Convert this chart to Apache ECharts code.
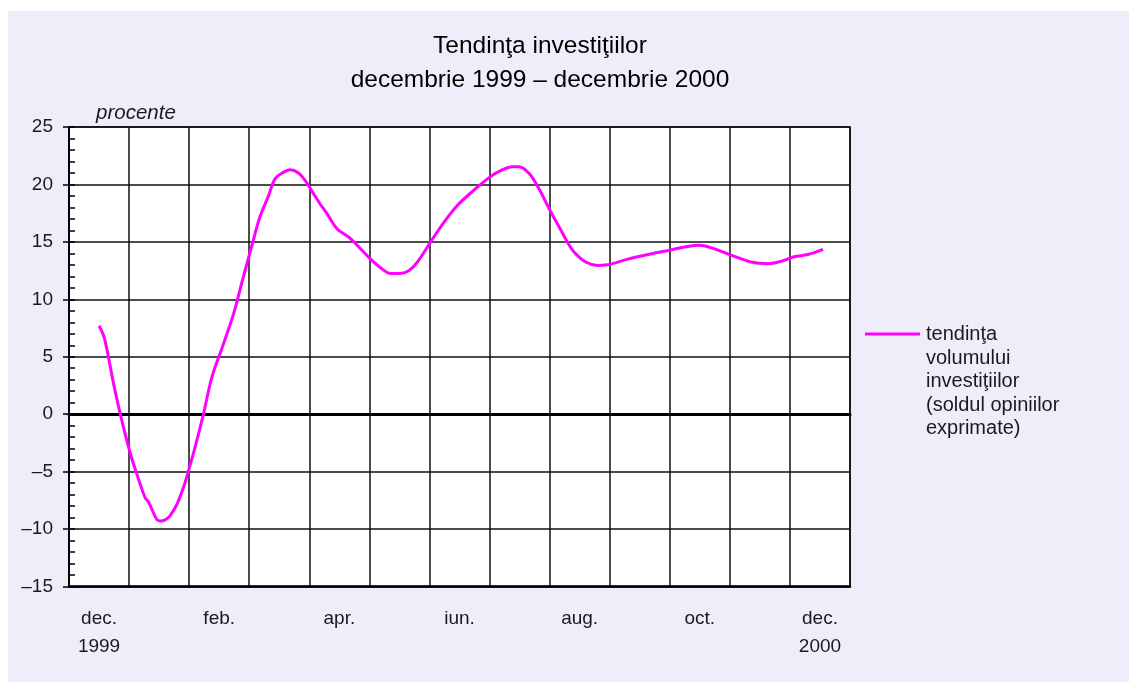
<!DOCTYPE html>
<html>
<head>
<meta charset="utf-8">
<script src="https://cdn.jsdelivr.net/npm/echarts@6/dist/echarts.min.js"></script>
<style>
  html, body { margin: 0; padding: 0; background: #ffffff; width: 1129px; height: 682px; overflow: hidden; }
  #bg { position: absolute; left: 8px; top: 11px; right: 0; bottom: 0; background: #EEEEFB; }
  #chart { position: absolute; left: 0; top: 0; width: 1129px; height: 682px; }
</style>
</head>
<body>
<div id="bg"></div>
<div id="chart"></div>
<script>
// Month categories (Dec 1999 – Dec 2000); every other one is labelled
const months = ['dec.\n1999', 'ian.', 'feb.', 'mar.', 'apr.', 'mai', 'iun.', 'iul.', 'aug.', 'sep.', 'oct.', 'nov.', 'dec.\n2000'];

// Position along the time axis (in months; centre of month k is k + 0.5)
const monthPos = [
  0.50, 0.59, 0.74, 0.85, 1.02, 1.16, 1.27, 1.32, 1.46, 1.52, 1.60, 1.68, 1.80, 1.91, 1.99,
  2.10, 2.24, 2.38, 2.57, 2.74, 2.90, 3.05, 3.18, 3.32, 3.43, 3.55, 3.68, 3.82, 3.93, 4.07,
  4.18, 4.29, 4.46, 4.68, 5.02, 5.21, 5.35, 5.52, 5.66, 5.80, 6.02, 6.24, 6.46, 6.74, 7.02,
  7.21, 7.38, 7.49, 7.66, 7.82, 8.02, 8.18, 8.30, 8.41, 8.60, 8.80, 8.96, 9.30, 9.68, 10.02,
  10.30, 10.49, 10.68, 11.02, 11.35, 11.63, 11.85, 12.07, 12.30, 12.55
];

// Investment volume trend (balance of opinions, %)
const trend = [
  7.7, 6.6, 2.7, 0.1, -3.4, -5.7, -7.3, -7.6, -9.15, -9.3, -9.2, -8.85, -7.8, -6.3, -4.9,
  -2.85, 0.05, 3.25, 6.1, 8.75, 11.9, 14.8, 17.2, 19.0, 20.5, 21.0, 21.27, 21.0, 20.35, 19.2,
  18.3, 17.5, 16.15, 15.3, 13.5, 12.65, 12.25, 12.25, 12.5, 13.25, 15.0, 16.7, 18.15, 19.5, 20.7,
  21.27, 21.55, 21.55, 20.95, 19.65, 17.6, 16.1, 14.95, 14.1, 13.25, 12.95, 13.0, 13.5, 13.95, 14.3,
  14.6, 14.7, 14.5, 13.85, 13.25, 13.1, 13.3, 13.7, 13.9, 14.35
];

const titleLines = ['Tendinţa investiţiilor', 'decembrie 1999 – decembrie 2000'];
const yUnit = 'procente';
const legendText = 'tendinţa\nvolumului\ninvestiţiilor\n(soldul opiniilor\nexprimate)';

const FONT = '"Liberation Sans", Arial, Helvetica, sans-serif';
const chart = echarts.init(document.getElementById('chart'), null, { renderer: 'canvas' });

const option = {
  backgroundColor: 'transparent',
  animation: false,
  grid: { left: 69, right: 279, top: 127, bottom: 95.5, containLabel: false,
          show: true, borderColor: '#000', borderWidth: 1.5, backgroundColor: '#ffffff' },
  xAxis: [
    {
      type: 'category', data: months, boundaryGap: true, position: 'bottom',
      axisLine: { onZero: false, lineStyle: { color: '#000', width: 2.5 } },
      axisTick: { show: false },
      axisLabel: { interval: 1, margin: 18, lineHeight: 28, fontSize: 19, color: '#1a1a1a', fontFamily: FONT },
      splitLine: { show: true, interval: 0, lineStyle: { color: '#111', width: 1.5 } }
    },
    { type: 'value', min: 0, max: 13, show: false },
    {
      type: 'category', data: months, boundaryGap: true, position: 'bottom',
      axisLine: { onZero: true, onZeroAxisIndex: 0, lineStyle: { color: '#000', width: 3 } },
      axisTick: { show: false }, axisLabel: { show: false }, splitLine: { show: false }
    }
  ],
  yAxis: [
    {
      type: 'value', min: -15, max: 25, interval: 5, position: 'left',
      axisLine: { show: true, lineStyle: { color: '#000', width: 2 } },
      axisTick: { show: true, length: 6, lineStyle: { color: '#000', width: 1.5 } },
      axisLabel: { margin: 16, fontSize: 19, color: '#1a1a1a', fontFamily: FONT,
                   formatter: v => String(v).replace('-', '\u2013') },
      splitLine: { show: true, lineStyle: { color: '#111', width: 1.5 } }
    },
    {
      type: 'value', min: -15, max: 25, interval: 1, position: 'left',
      axisLine: { show: false },
      axisTick: { show: true, inside: true, length: 6, lineStyle: { color: '#000', width: 1.5 } },
      axisLabel: { show: false }, splitLine: { show: false }
    }
  ],
  series: [
    {
      type: 'line', name: 'tendinţa volumului investiţiilor',
      xAxisIndex: 1, yAxisIndex: 0,
      data: monthPos.map((m, i) => [m, trend[i]]),
      smooth: 0.35, showSymbol: false, symbol: 'none',
      lineStyle: { color: '#FF00FF', width: 3 },
      z: 5
    }
  ],
  graphic: [
    { type: 'text', x: 540, y: 46, style: { text: titleLines[0], fill: '#000', font: '24.5px ' + FONT, textAlign: 'center', textVerticalAlign: 'middle' } },
    { type: 'text', x: 540, y: 80, style: { text: titleLines[1], fill: '#000', font: '24.5px ' + FONT, textAlign: 'center', textVerticalAlign: 'middle' } },
    { type: 'text', x: 96, y: 113, style: { text: yUnit, fill: '#1a1a1a', font: 'italic 20.5px ' + FONT, textAlign: 'left', textVerticalAlign: 'middle' } },
    { type: 'line', shape: { x1: 865, y1: 334, x2: 920, y2: 334 }, style: { stroke: '#FF00FF', lineWidth: 3 } },
    { type: 'text', x: 926, y: 323, style: { text: legendText, fill: '#1a1a1a', font: '20px ' + FONT, lineHeight: 23.5, textAlign: 'left', textVerticalAlign: 'top' } }
  ]
};
chart.setOption(option);
</script>
</body>
</html>
